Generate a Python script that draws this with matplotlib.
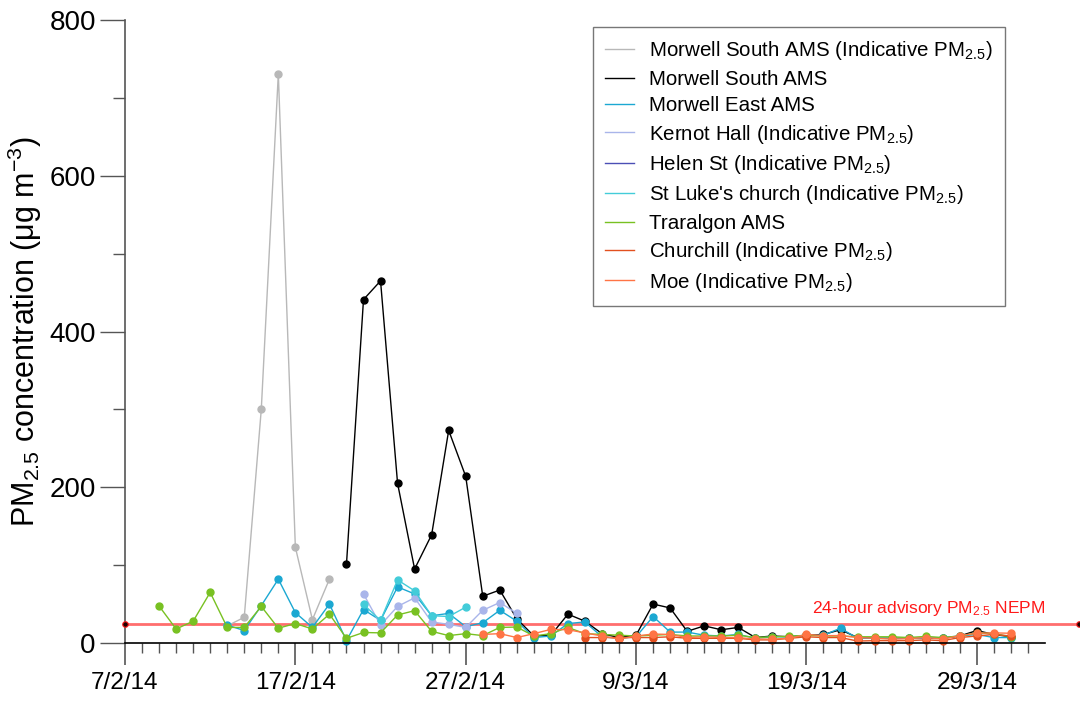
import numpy as np
import matplotlib
matplotlib.use("Agg")
import matplotlib.pyplot as plt

plt.rcParams['font.family'] = ['Liberation Sans', 'DejaVu Sans']
plt.rcParams['mathtext.default'] = 'regular'

tick_labels = ["7/2/14", "17/2/14", "27/2/14", "9/3/14", "19/3/14", "29/3/14"]
tick_days = [0, 10, 20, 30, 40, 50]

# series: (start day, values)
ms_ind_start = 6
ms_ind = [22, 33, 300, 731, 123, 30, 82]

ms_start = 13
ms = [101, 441, 465, 205, 95, 139, 273, 214, 60, 68, 31, 9, 10, 37, 28, 12, 7, 10,
      50, 45, 15, 22, 17, 20, 7, 9, 8, 10, 11, 17, 7, 6, 6, 6, 6, 6, 9, 16, 11, 8]

me_start = 6
me = [23, 16, 48, 82, 39, 20, 50, 3, 43, 29, 72, 63, 35, 38, 21, 26, 42, 28, 7, 9,
      25, 27, 8, 6, 8, 34, 14, 14, 10, 9, 11, 6, 8, 8, 10, 10, 19, 6, 6, 6, 6, 6, 7,
      9, 11, 7, 7]

kh_start = 14
kh = [63, 23, 47, 58, 27, 24, 20, 42, 52, 38]

helen_start = 14
helen = []

sl_start = 14
sl = [49.5, 29, 81, 67, 35, 34, 46]

tr_start = 2
tr = [47.5, 18, 28, 65, 20, 20, 47, 19, 25, 18, 37, 6, 13.5, 13, 36, 41.5, 15, 9.5,
      12, 9.5, 20, 20.5, 9, 12, 20, 12, 11, 10, 9, 10, 11, 9, 9, 9, 10, 7, 8, 8.5,
      10, 9, 9, 8, 8, 8, 7, 8.5, 7, 9, 13, 12, 8]

ch_start = 27
ch = [7, 7, 7, 7, 7, 8, 6, 6, 6, 6, 4, 4, 6, 8, 7, 7, 2.5, 3, 3, 3, 4, 3, 7, 9, 11, 9]

moe_start = 21
moe = [11, 12, 7, 12, 17.5, 17, 13, 9, 5, 9, 11.5, 11, 7, 8, 7, 7, 5, 5, 6, 11, 9.5,
       9.5, 7, 6, 5, 5.5, 7, 5, 9.5, 12.5, 13, 12.5]

nepm_value = 25
nepm_days = [0, 56]

series = [
    ("Morwell South AMS (Indicative PM$_{2.5}$)", ms_ind_start, ms_ind, "#b8b8b8"),
    ("Morwell South AMS", ms_start, ms, "#000000"),
    ("Morwell East AMS", me_start, me, "#1ba8d2"),
    ("Kernot Hall (Indicative PM$_{2.5}$)", kh_start, kh, "#a9b5ea"),
    ("Helen St (Indicative PM$_{2.5}$)", helen_start, helen, "#4b4fb5"),
    ("St Luke's church (Indicative PM$_{2.5}$)", sl_start, sl, "#43ccd9"),
    ("Traralgon AMS", tr_start, tr, "#78c122"),
    ("Churchill (Indicative PM$_{2.5}$)", ch_start, ch, "#e2501f"),
    ("Moe (Indicative PM$_{2.5}$)", moe_start, moe, "#ff7445"),
]

fig = plt.figure(figsize=(10.8, 7.04), dpi=100)
ax = fig.add_axes([125 / 1080, 61 / 704, 954 / 1080, 623 / 704])

# advisory line
ax.plot(nepm_days, [nepm_value, nepm_value], '-', color='#ff6e6e', lw=2.0,
        zorder=1, clip_on=False)
ax.plot(nepm_days, [nepm_value, nepm_value], 'o', ms=4, mfc='#200000', mec='#ff2020',
        mew=0.8, zorder=5, clip_on=False)
ax.text(54, 44, "24-hour advisory PM$_{2.5}$ NEPM", color='#ff1a1a', fontsize=12.5,
        ha='right', va='center')

for label, start, vals, color in series:
    d = np.arange(start, start + len(vals))
    ax.plot(d, vals, '-o', color=color, lw=1.0, ms=5, label=label,
            clip_on=False, zorder=2)

ax.set_xlim(0, 56)
ax.set_ylim(0, 800)

ax.spines['top'].set_visible(False)
ax.spines['right'].set_visible(False)
ax.spines['bottom'].set_bounds(0, 54)
ax.spines['left'].set_color('#555555')
ax.spines['left'].set_linewidth(1.2)
ax.spines['bottom'].set_linewidth(1.2)

ax.set_xticks(tick_days)
ax.set_xticklabels(tick_labels)
ax.set_xticks(np.arange(0, 54), minor=True)
ax.set_yticks([0, 200, 400, 600, 800])
ax.set_yticks([100, 300, 500, 700], minor=True)

ax.tick_params(axis='x', which='major', direction='out', length=16, width=1.2,
               labelsize=17.5, pad=5, color='#555555')
ax.tick_params(axis='x', which='minor', direction='out', length=7.5, width=1.0,
               color='#555555')
ax.tick_params(axis='y', which='major', direction='out', length=18, width=1.0,
               labelsize=20, pad=3, color='#555555')
ax.tick_params(axis='y', which='minor', direction='out', length=9, width=1.0,
               color='#555555')

ax.set_ylabel("PM$_{2.5}$ concentration (\u03bcg m$^{-3}$)", fontsize=22)
ax.yaxis.set_label_coords(-0.085, 0.5)

leg = ax.legend(loc='upper left', bbox_to_anchor=(0.4906, 0.9888), fontsize=14.8,
                frameon=True, fancybox=False, edgecolor='#555555',
                handlelength=1.4, handletextpad=0.7, borderpad=0.6,
                labelspacing=0.36, borderaxespad=0)
leg.get_frame().set_linewidth(1.0)
for h in leg.get_lines():
    h.set_marker('')

fig.savefig("out.png", dpi=100)
